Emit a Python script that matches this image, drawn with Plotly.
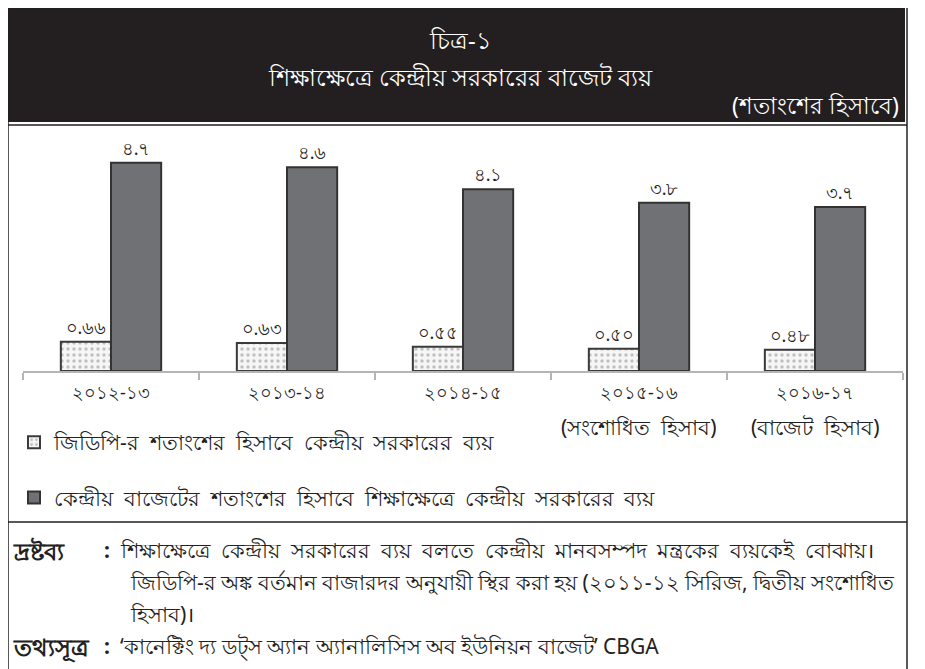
import plotly.graph_objects as go

categories = ["২০১২-১৩", "২০১৩-১৪", "২০১৪-১৫", "২০১৫-১৬", "২০১৬-১৭"]
sub_labels = ["", "", "", "(সংশোধিত হিসাব)", "(বাজেট হিসাব)"]
gdp_share = [0.66, 0.63, 0.55, 0.50, 0.48]
budget_share = [4.7, 4.6, 4.1, 3.8, 3.7]
series_names = [
    "জিডিপি-র শতাংশের হিসাবে কেন্দ্রীয় সরকারের ব্যয়",
    "কেন্দ্রীয় বাজেটের শতাংশের হিসাবে শিক্ষাক্ষেত্রে কেন্দ্রীয় সরকারের ব্যয়",
]
title_lines = ["চিত্র-১", "শিক্ষাক্ষেত্রে কেন্দ্রীয় সরকারের বাজেট ব্যয়"]
unit_label = "(শতাংশের হিসাবে)"
note_head = "দ্রষ্টব্য"
note_lines = [
    "শিক্ষাক্ষেত্রে কেন্দ্রীয় সরকারের ব্যয় বলতে কেন্দ্রীয় মানবসম্পদ মন্ত্রকের ব্যয়কেই বোঝায়।",
    "জিডিপি-র অঙ্ক বর্তমান বাজারদর অনুযায়ী স্থির করা হয় (২০১১-১২ সিরিজ, দ্বিতীয় সংশোধিত",
    "হিসাব)।",
]
source_head = "তথ্যসূত্র"
source_text = "‘কানেক্টিং দ্য ডট্স অ্যান অ্যানালিসিস অব ইউনিয়ন বাজেট’ CBGA"

BN = str.maketrans("0123456789", "০১২৩৪৫৬৭৮৯")


def bn(v, fmt):
    return format(v, fmt).translate(BN)


def spread(s, n):
    return s.replace(" ", "\u00a0" * n)


W, H = 925, 669
OFF = 8  # page body margin
FONT = "Noto Sans, DejaVu Sans, sans-serif"


def px(x):
    return (x - OFF) / W


def py(y):
    return 1 - (y - OFF) / H


fig = go.Figure()
fig.add_trace(go.Bar(
    x=categories, y=gdp_share, name=spread(series_names[0], 2),
    text=[bn(v, ".2f") for v in gdp_share], textposition="outside",
    textfont=dict(size=18, color="#222"),
    marker=dict(color="white", line=dict(color="#3a3a3a", width=2),
                pattern=dict(shape=".", fgcolor="#8a8a8a", bgcolor="#f6f6f6", size=6, solidity=0.25)),
    legendgroup="a", cliponaxis=False,
))
fig.add_trace(go.Bar(
    x=categories, y=budget_share, name=spread(series_names[1], 2),
    text=[bn(v, ".1f") for v in budget_share], textposition="outside",
    textfont=dict(size=18, color="#222"),
    marker=dict(color="#707174", line=dict(color="#333", width=2)),
    legendgroup="b", cliponaxis=False,
))

y0, y_top = 371, 130
scale = 44.3
fig.update_layout(
    width=W, height=H, margin=dict(l=0, r=0, t=0, b=0),
    paper_bgcolor="white", plot_bgcolor="white",
    font=dict(family=FONT, color="#222", size=17),
    barmode="group", bargap=0.43, bargroupgap=0,
    xaxis=dict(domain=[px(23), px(903)], showgrid=False, showline=True,
               linecolor="#b5b5b5", linewidth=2, ticks="outside", ticklen=7,
               tickcolor="#b5b5b5", tickwidth=1.5, tickson="boundaries",
               ticklabelstandoff=4, tickfont=dict(size=18, color="#222")),
    yaxis=dict(domain=[py(y0), py(y_top)], range=[0, (y0 - y_top) / scale],
               visible=False),
    showlegend=True,
    legend=dict(x=px(14), y=py(422), xanchor="left", yanchor="top",
                traceorder="grouped", tracegroupgap=25,
                font=dict(size=21, color="#222"), bgcolor="rgba(0,0,0,0)"),
)

shapes = [
    dict(type="rect", xref="paper", yref="paper", x0=px(8), x1=px(905), y0=py(3), y1=py(122),
         fillcolor="#231f20", line=dict(width=0), layer="below"),
    dict(type="line", xref="paper", yref="paper", x0=px(8), x1=px(907), y0=py(125), y1=py(125),
         line=dict(color="#231f20", width=1.5)),
    dict(type="line", xref="paper", yref="paper", x0=px(8), x1=px(8), y0=py(2), y1=py(680),
         line=dict(color="#231f20", width=1.5)),
    dict(type="line", xref="paper", yref="paper", x0=px(907), x1=px(907), y0=py(2), y1=py(680),
         line=dict(color="#231f20", width=1.5)),
    dict(type="line", xref="paper", yref="paper", x0=px(8), x1=px(907), y0=py(522), y1=py(522),
         line=dict(color="#231f20", width=1.5)),
]
fig.update_layout(shapes=shapes)

ann = []


def add_text(text, x, y, size, color="#222", anchor="left", xref="paper"):
    ann.append(dict(text=text, x=x if xref != "paper" else px(x), y=py(y), xref=xref, yref="paper",
                    showarrow=False, font=dict(size=size, color=color),
                    xanchor=anchor, yanchor="middle"))


add_text(title_lines[0], 460, 40, 24, "white", "center")
add_text(title_lines[1], 460, 76, 24, "white", "center")
add_text(unit_label, 901, 105, 23, "white", "right")
for c, s in zip(categories, sub_labels):
    if s:
        add_text(spread(s, 2), c, 427, 21, anchor="center", xref="x")
add_text("<b>" + note_head + "</b>", 11, 550, 24)
add_text("<b>:</b>", 107, 550, 21, anchor="center")
add_text("<b>" + source_head + "</b>", 11, 646, 24)
add_text("<b>:</b>", 107, 646, 21, anchor="center")
add_text(spread(note_lines[0], 2), 118, 550, 21)
add_text(note_lines[1], 128, 582, 21)
add_text(note_lines[2], 128, 614, 21)
add_text(source_text, 118, 646, 21)
fig.update_layout(annotations=ann)

fig.write_html("out.html")
